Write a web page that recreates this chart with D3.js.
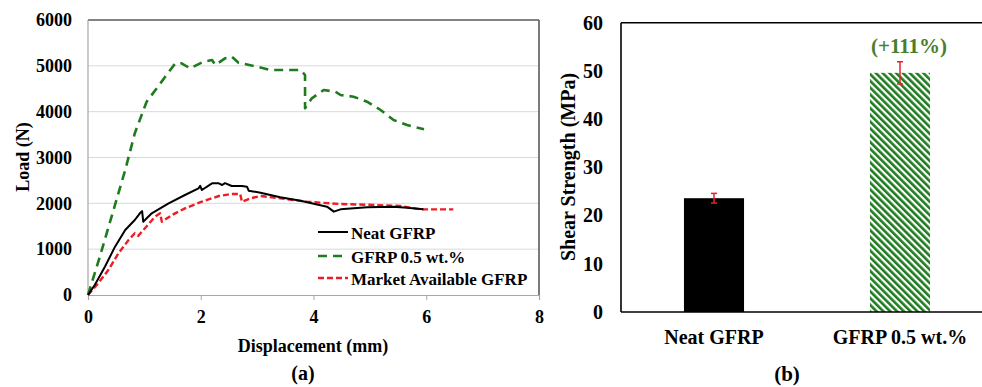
<!DOCTYPE html>
<html>
<head>
<script src="https://d3js.org/d3.v7.min.js"></script>
<style>
  body { margin: 0; background: #fff; }
  svg text { font-family: "Liberation Serif", "Times New Roman", serif; font-weight: bold; }
</style>
</head>
<body>
<div id="chart"></div>
<script>
// ---- data ----
// load-displacement curves: [displacement mm, load N]
var neatGFRP = [[0,0],[0.12,218],[0.30,618],[0.48,1055],[0.66,1418],[0.83,1636],[0.92,1782],[0.96,1830],[0.98,1600],
  [1.13,1782],[1.43,2000],[1.72,2182],[1.96,2327],[1.99,2380],[2.02,2291],[2.2,2436],[2.32,2436],[2.38,2400],
  [2.43,2440],[2.55,2378],[2.73,2378],[2.82,2363],[2.85,2276],[3.06,2232],[3.41,2131],[3.77,2058],[4.24,1927],
  [4.36,1818],[4.48,1869],[4.95,1913],[5.42,1927],[5.66,1906],[5.95,1869]];
var gfrp05 = [[0,0],[0.21,835],[0.66,2727],[0.83,3528],[1.04,4218],[1.22,4510],[1.37,4764],[1.55,5055],[1.66,5055],
  [1.81,4946],[2.05,5091],[2.2,5127],[2.26,5018],[2.43,5164],[2.55,5200],[2.67,5069],[3.0,4981],[3.23,4909],
  [3.53,4909],[3.77,4909],[3.85,4800],[3.85,4073],[3.97,4291],[4.18,4473],[4.39,4436],[4.48,4364],[4.71,4327],
  [4.95,4218],[5.19,4036],[5.42,3818],[5.66,3709],[5.96,3615]];
var marketGFRP = [[0,0],[0.18,255],[0.36,545],[0.54,909],[0.72,1200],[0.83,1346],[0.89,1290],[1.01,1455],[1.19,1709],
  [1.28,1782],[1.31,1600],[1.49,1745],[1.72,1891],[2.02,2036],[2.32,2160],[2.55,2204],[2.70,2204],[2.73,2036],
  [2.88,2109],[3.06,2160],[3.41,2109],[3.88,2036],[4.48,1985],[5.07,1964],[5.54,1942],[5.9,1869],[6.48,1869]];
var curveNames = ["Neat GFRP", "GFRP 0.5 wt.%", "Market Available GFRP"];
var xTicksA = [0, 2, 4, 6, 8];
var yTicksA = [0, 1000, 2000, 3000, 4000, 5000, 6000];

// shear strength bars
var barCats = ["Neat GFRP", "GFRP 0.5 wt.%"];
var barValues = [23.6, 49.6];
var barErrors = [1.0, 2.3];
var barNotes = ["", "(+111%)"];
var yTicksB = [0, 10, 20, 30, 40, 50, 60];

var svg = d3.select("#chart").append("svg")
    .attr("width", 982)
    .attr("height", 387);

var green = "#1e7b1e";

// hatch for the second bar
svg.append("defs").append("pattern")
    .attr("id", "hatch")
    .attr("patternUnits", "userSpaceOnUse")
    .attr("width", 4.8)
    .attr("height", 4.8)
    .attr("patternTransform", "rotate(-45)")
  .append("rect")
    .attr("width", 2.6)
    .attr("height", 4.8)
    .attr("fill", green);

/* ---------------- panel (a) ---------------- */
var xA = d3.scaleLinear().domain([0, 8]).range([88, 539]);
var yA = d3.scaleLinear().domain([0, 6000]).range([295, 20]);
var gA = svg.append("g");

// gridlines
gA.selectAll(".grid").data(yTicksA.slice(1, -1)).enter()
  .append("line")
    .attr("x1", xA(0)).attr("x2", xA(8))
    .attr("y1", function(d) { return yA(d); })
    .attr("y2", function(d) { return yA(d); })
    .attr("stroke", "#d9d9d9").attr("stroke-width", 1);

// frame
gA.append("line").attr("x1", xA(0)).attr("x2", xA(8)).attr("y1", yA(6000)).attr("y2", yA(6000))
    .attr("stroke", "#5a5a5a").attr("stroke-width", 1.6);
gA.append("line").attr("x1", xA(8)).attr("x2", xA(8)).attr("y1", yA(6000)).attr("y2", yA(0))
    .attr("stroke", "#5a5a5a").attr("stroke-width", 1.6);
gA.append("line").attr("x1", xA(0)).attr("x2", xA(0)).attr("y1", yA(6000)).attr("y2", yA(0))
    .attr("stroke", "#a6a6a6").attr("stroke-width", 1.2);

var xAxisA = gA.append("g")
    .attr("transform", "translate(0," + yA(0) + ")")
    .call(d3.axisBottom(xA).tickValues(xTicksA).tickSize(5).tickPadding(10.5));
xAxisA.select(".domain").attr("stroke", "#a6a6a6").attr("stroke-width", 1.2);
xAxisA.selectAll(".tick line").attr("stroke", "#a6a6a6");
xAxisA.selectAll("text").attr("font-size", 18).attr("fill", "#000");

var yAxisA = gA.append("g")
    .attr("transform", "translate(" + xA(0) + ",0)")
    .call(d3.axisLeft(yA).tickValues(yTicksA).tickFormat(d3.format("d")).tickSize(0).tickPadding(16));
yAxisA.select(".domain").remove();
yAxisA.selectAll("text").attr("font-size", 18).attr("fill", "#000");

var line = d3.line()
    .x(function(d) { return xA(d[0]); })
    .y(function(d) { return yA(d[1]); });

var styles = [
  { color: "#000", dash: null, width: 2 },
  { color: green, dash: "9,6", width: 2.6 },
  { color: "#ee1c25", dash: "6,3", width: 2.4 }
];
var curves = [neatGFRP, gfrp05, marketGFRP];

// draw neat last so it sits on top where lines cross
[1, 2, 0].forEach(function(i) {
  gA.append("path")
    .datum(curves[i])
    .attr("d", line)
    .attr("fill", "none")
    .attr("stroke", styles[i].color)
    .attr("stroke-width", styles[i].width)
    .attr("stroke-dasharray", styles[i].dash)
    .attr("stroke-linejoin", "round");
});

// legend
var legend = gA.selectAll(".legend").data(curveNames).enter()
  .append("g")
    .attr("transform", function(d, i) { return "translate(318," + [232, 256, 278][i] + ")"; });
legend.append("line")
    .attr("x1", 0).attr("x2", 30)
    .attr("stroke", function(d, i) { return styles[i].color; })
    .attr("stroke-width", function(d, i) { return styles[i].width; })
    .attr("stroke-dasharray", function(d, i) { return styles[i].dash; });
legend.append("text")
    .attr("x", 33).attr("y", 7)
    .attr("font-size", 17)
    .text(function(d) { return d; });

gA.append("text").attr("x", 313).attr("y", 352).attr("text-anchor", "middle")
    .attr("font-size", 18).text("Displacement (mm)");
gA.append("text").attr("transform", "translate(29,157) rotate(-90)").attr("text-anchor", "middle")
    .attr("font-size", 18).text("Load (N)");
gA.append("text").attr("x", 303).attr("y", 380).attr("text-anchor", "middle")
    .attr("font-size", 20).text("(a)");

/* ---------------- panel (b) ---------------- */
var xB = d3.scaleBand().domain(barCats).range([621, 993]).paddingInner(0.677).paddingOuter(0.3385);
var yB = d3.scaleLinear().domain([0, 60]).range([312, 22.7]);
var gB = svg.append("g");

var bars = barCats.map(function(c, i) {
  return { cat: c, value: barValues[i], err: barErrors[i], note: barNotes[i] };
});

gB.selectAll(".bar").data(bars).enter()
  .append("rect")
    .attr("x", function(d) { return xB(d.cat); })
    .attr("y", function(d) { return yB(d.value); })
    .attr("width", xB.bandwidth())
    .attr("height", function(d) { return yB(0) - yB(d.value); })
    .attr("fill", function(d, i) { return i === 0 ? "#000" : "url(#hatch)"; });

// error bars
var eb = gB.selectAll(".err").data(bars).enter().append("g")
    .attr("stroke", "#e8202a").attr("stroke-width", 1.5);
eb.append("line")
    .attr("x1", function(d) { return xB(d.cat) + xB.bandwidth() / 2; })
    .attr("x2", function(d) { return xB(d.cat) + xB.bandwidth() / 2; })
    .attr("y1", function(d) { return yB(d.value + d.err); })
    .attr("y2", function(d) { return yB(d.value - d.err); });
[1, -1].forEach(function(s) {
  eb.append("line")
    .attr("x1", function(d) { return xB(d.cat) + xB.bandwidth() / 2 - 3; })
    .attr("x2", function(d) { return xB(d.cat) + xB.bandwidth() / 2 + 3; })
    .attr("y1", function(d) { return yB(d.value + s * d.err); })
    .attr("y2", function(d) { return yB(d.value + s * d.err); });
});

gB.selectAll(".note").data(bars).enter()
  .append("text")
    .attr("x", function(d) { return xB(d.cat) + xB.bandwidth() / 2 + 9; })
    .attr("y", 53)
    .attr("text-anchor", "middle")
    .attr("font-size", 21)
    .attr("fill", "#4a7d2c")
    .text(function(d) { return d.note; });

// frame
gB.append("line").attr("x1", 621).attr("x2", 982).attr("y1", yB(60)).attr("y2", yB(60))
    .attr("stroke", "#000").attr("stroke-width", 1.6);
gB.append("line").attr("x1", 621).attr("x2", 621).attr("y1", yB(60)).attr("y2", yB(0))
    .attr("stroke", "#000").attr("stroke-width", 1.6);
gB.append("line").attr("x1", 621).attr("x2", 982).attr("y1", yB(0)).attr("y2", yB(0))
    .attr("stroke", "#000").attr("stroke-width", 1.6);

var yAxisB = gB.append("g")
    .attr("transform", "translate(621,0)")
    .call(d3.axisLeft(yB).tickValues(yTicksB).tickSize(0).tickPadding(18));
yAxisB.select(".domain").remove();
yAxisB.selectAll("text").attr("font-size", 20).attr("fill", "#000");

var xAxisB = gB.append("g")
    .attr("transform", "translate(0," + yB(0) + ")")
    .call(d3.axisBottom(xB).tickSize(0).tickPadding(18));
xAxisB.select(".domain").remove();
xAxisB.selectAll("text").attr("font-size", 20).attr("fill", "#000");

gB.append("text").attr("transform", "translate(575,167) rotate(-90)").attr("text-anchor", "middle")
    .attr("font-size", 20).text("Shear Strength (MPa)");
gB.append("text").attr("x", 787).attr("y", 381).attr("text-anchor", "middle")
    .attr("font-size", 21).text("(b)");
</script>
</body>
</html>
